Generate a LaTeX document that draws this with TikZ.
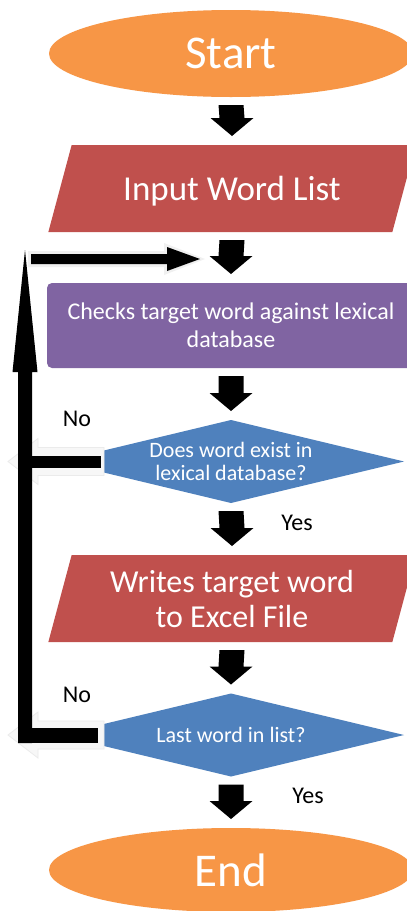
\documentclass[tikz,border=0pt]{standalone}
\usepackage{fontspec}
\setmainfont{Carlito}
\usetikzlibrary{shapes.geometric,calc,backgrounds}

\definecolor{termOrange}{HTML}{F79646}
\definecolor{ioRed}{HTML}{C0504D}
\definecolor{procPurple}{HTML}{8064A2}
\definecolor{decBlue}{HTML}{4F81BD}

\tikzset{
  every node/.style={inner sep=0pt, outer sep=0pt},
  terminal/.style={ellipse, fill=termOrange, minimum width=364pt, minimum height=87pt,
    text=white, text depth=0pt, font=\fontsize{47}{50}\selectfont},
  io/.style={rectangle, minimum width=344pt, minimum height=87pt,
    text=white, align=center},
  process/.style={rectangle, rounded corners=5pt, fill=procPurple, minimum width=368pt,
    minimum height=85pt, text=white, align=center, font=\fontsize{24}{28}\selectfont},
  decision/.style={diamond, aspect=4.17, fill=decBlue, minimum width=346pt,
    minimum height=83pt, text=white, align=center},
  lbl/.style={text=black, anchor=base, font=\fontsize{24}{26}\selectfont},
  arrowfill/.style={fill=black},
  halo/.style={fill=black!6},
  ghost/.style={fill=black!3, draw=black!8, line width=0.8pt},
}

% slanted data box filled behind the text of an io node
\newcommand\ioshape[1]{%
  \begin{scope}[on background layer]
    \fill[ioRed] ($(#1.south west)+(-11.65,0)$) -- ($(#1.south east)+(-11.65,0)$)
      -- ($(#1.north east)+(11.65,0)$) -- ($(#1.north west)+(11.65,0)$) -- cycle;
  \end{scope}}

% thick block arrow pointing down, from the bottom of one node to the top of the next
\newcommand\blockdown[2]{%
  \path ($(#1.south)+(0,8)$) coordinate (bt) ($(#2.north)+(0,-9)$) coordinate (bp);
  \fill[arrowfill] ($(bt)+(-12.5,0)$) -- ($(bt)+(12.5,0)$) -- ($(bp)+(12.5,-18)$)
    -- ($(bp)+(21.5,-18)$) -- (bp) -- ($(bp)+(-21.5,-18)$) -- ($(bp)+(-12.5,-18)$) -- cycle;}

% faint outline of a left-pointing arrow behind a "No" branch
\newcommand\ghostleft[1]{%
  \path ($(#1.west)+(46,0)$) coordinate (gr);
  \filldraw[ghost] ($(gr)+(0,-14)$) -- ($(gr)+(0,14)$) -- ($(gr)+(-66,14)$) -- ($(gr)+(-66,23)$)
    -- ($(gr)+(-96,0)$) -- ($(gr)+(-66,-23)$) -- ($(gr)+(-66,-14)$) -- cycle;}

\begin{document}
\begin{tikzpicture}[x=1pt, y=-1pt]
  \begin{scope}[on background layer]
    \fill[white] (0,0) rectangle (407,911);
  \end{scope}
  \useasboundingbox (0,0) rectangle (407,911);
  \clip (0,0) rectangle (407,911);

  % flow chart boxes
  \node[terminal] (start) at (231,53.5) {Start};
  \node[io, text depth=0pt, font=\fontsize{35}{40}\selectfont] (input) at (232,188.5) {Input Word List};
  \ioshape{input}
  \node[process] (check) at (231,325.5) {Checks target word against lexical\\database};
  \node[decision, font=\fontsize{22}{23}\selectfont] (exist) at (231,461.5) {Does word exist in\\lexical database?};
  \node[io, font=\fontsize{32}{35}\selectfont] (write) at (232,598.5) {Writes target word\\to Excel File};
  \ioshape{write}
  \node[decision, text depth=0pt, font=\fontsize{22}{25}\selectfont] (last) at (231,735) {Last word in list?};
  \node[terminal, minimum height=84pt] (end) at (231,870) {End};

  % main downward flow
  \blockdown{start}{input}
  \blockdown{input}{check}
  \blockdown{check}{exist}
  \blockdown{exist}{write}
  \blockdown{write}{last}
  \blockdown{last}{end}

  % return loop
  \coordinate (loopTip) at (25,250);
  \coordinate (loopBase) at (25,743);
  \coordinate (retStart) at (31,259);
  \coordinate (retTip) at (200,259);

  \ghostleft{exist}
  \ghostleft{last}

  \fill[arrowfill] ($(exist.west)+(43,-6)$) rectangle ($(exist.west -| loopBase)+(0,6)$);
  \fill[arrowfill] ($(last.west)+(40,-7.5)$) rectangle ($(last.west -| loopBase)+(-7,8)$);

  \fill[arrowfill] ($(loopBase)+(-7,0)$) -- ($(loopBase)+(7,0)$) -- ($(loopTip)+(7,122)$)
    -- ($(loopTip)+(12.5,122)$) -- (loopTip) -- ($(loopTip)+(-12.5,122)$) -- ($(loopTip)+(-7,122)$) -- cycle;

  \fill[halo] ($(retStart)+(-3,-8)$) -- ($(retTip)+(-36,-8)$) -- ($(retTip)+(-36,-16)$)
    -- ($(retTip)+(5,0)$) -- ($(retTip)+(-36,16)$) -- ($(retTip)+(-36,8)$) -- ($(retStart)+(-3,8)$) -- cycle;
  \fill[arrowfill] ($(retStart)+(0,-5)$) -- ($(retTip)+(-33,-5)$) -- ($(retTip)+(-33,-12)$)
    -- (retTip) -- ($(retTip)+(-33,12)$) -- ($(retTip)+(-33,5)$) -- ($(retStart)+(0,5)$) -- cycle;

  % branch labels
  \node[lbl] (no1) at (77,426) {No};
  \node[lbl] (yes1) at (297,530) {Yes};
  \node[lbl] (no2) at (77,702) {No};
  \node[lbl] (yes2) at (308,803) {Yes};
\end{tikzpicture}
\end{document}
